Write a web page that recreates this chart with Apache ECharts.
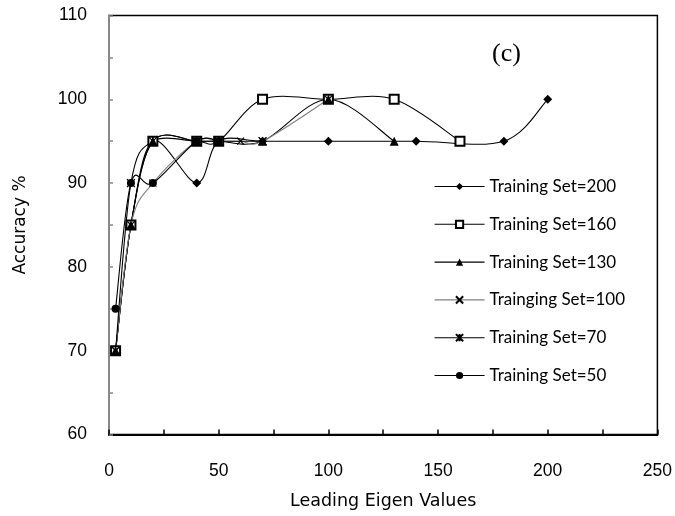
<!DOCTYPE html>
<html><head><meta charset="utf-8">
<script src="https://cdn.jsdelivr.net/npm/echarts@6/dist/echarts.min.js"></script>
<style>html,body{margin:0;padding:0;background:#fff}#c{width:675px;height:516px}</style>
</head><body><div id="c"></div>
<script>
const seriesNames = ['Training Set=200','Training Set=160','Training Set=130','Trainging Set=100','Training Set=70','Training Set=50'];
const x200 = [3,10,20,40,50,70,100,140,180,200];
const y200 = [70,85,95,90,95,95,95,95,95,100];
const x160 = [3,10,20,40,50,70,100,130,160];
const y160 = [70,85,95,95,95,100,100,100,95];
const x130 = [3,10,20,40,50,70,100,130];
const y130 = [70,85,95,95,95,95,100,95];
const x100 = [3,10,20,40,50,60,70,100];
const y100 = [70,85,90,95,95,95,95,100];
const x70 = [3,10,20,40,50,70];
const y70 = [70,90,95,95,95,95];
const x50 = [3,10,20,40,50];
const y50 = [75,90,90,95,95];
const xTicks = [0,50,100,150,200,250];
const yTicks = [60,70,80,90,100,110];

const xsAll = [x200,x160,x130,x100,x70,x50];
const ysAll = [y200,y160,y130,y100,y70,y50];
const symbols = ['diamond','emptyRect','triangle','path://M0,0L10,10M10,0L0,10','path://M0,0L10,10M10,0L0,10M5,0L5,10','circle'];
const sizes = [9,9,9,7,8,8];
const lineColors = ['#000','#000','#000','#808080','#000','#000'];

// Excel-like smooth curve drawn through the chart's own coordinate system
function makeCurveRender(idx){
  return function(params, api){
    if (params.dataIndex !== 0) return null;
    const xs = xsAll[idx], ys = ysAll[idx];
    const P = xs.map((x,j)=>api.coord([x, ys[j]]));
    const n = P.length;
    let d = 'M' + P[0][0] + ' ' + P[0][1];
    for (let i=0;i<n-1;i++){
      const p0 = P[Math.max(i-1,0)], p1 = P[i], p2 = P[i+1], p3 = P[Math.min(i+2,n-1)];
      const c1 = [p1[0] + (p2[0]-p0[0])/6, p1[1] + (p2[1]-p0[1])/6];
      const c2 = [p2[0] - (p3[0]-p1[0])/6, p2[1] - (p3[1]-p1[1])/6];
      d += ' C' + c1[0] + ' ' + c1[1] + ' ' + c2[0] + ' ' + c2[1] + ' ' + p2[0] + ' ' + p2[1];
    }
    return {type:'path', shape:{pathData:d}, style:{fill:'none', stroke:lineColors[idx], lineWidth:1.1}};
  };
}

const curveSeries = seriesNames.map((n,i)=>({
  name: n + ' curve', type:'custom', renderItem: makeCurveRender(i),
  data: xsAll[i].map((x,j)=>[x, ysAll[i][j]]), z: 2, silent:true, clip:true
}));
const markerSeries = seriesNames.map((n,i)=>({
  name:n, type:'line',
  data: xsAll[i].map((x,j)=>[x, ysAll[i][j]]),
  symbol: symbols[i], symbolSize: sizes[i], showAllSymbol:true,
  lineStyle:{color:lineColors[i], width:1.1, opacity:0},
  itemStyle:{color:'#000', borderColor:'#000', borderWidth: (i===1||i===3||i===4)?1.2:0},
  emphasis:{disabled:true},
  z: 3+i
}));

const chart = echarts.init(document.getElementById('c'), null, {renderer:'canvas'});
chart.setOption({
  animation:false,
  backgroundColor:'#fff',
  grid:{left:109, right:17.5, top:15.5, bottom:81.5, show:true, borderColor:'#000', borderWidth:1.5},
  legend:{
    orient:'vertical', left:434, top:177.5, padding:0, itemWidth:50, itemHeight:9, itemGap:19.8,
    data: seriesNames.map((n,i)=>({name:n, lineStyle:{opacity:1, color:lineColors[i], width:1.1}})),
    textStyle:{fontFamily:'Lato', fontSize:17, color:'#000', lineHeight:18},
  },
  xAxis:{
    type:'value', min:0, max:250, interval:25,
    name:'Leading Eigen Values', nameLocation:'middle', nameGap:58,
    nameTextStyle:{fontFamily:'DejaVu Sans', fontSize:17.5, color:'#000'},
    axisLine:{show:true, onZero:false, lineStyle:{color:'#000', width:2}},
    axisTick:{show:true, inside:true, length:5, lineStyle:{color:'#000', width:1.5}},
    axisLabel:{margin:28, fontFamily:'Liberation Sans', fontSize:17.5, color:'#000',
      formatter:v=> xTicks.includes(v) ? String(v) : ''},
    splitLine:{show:false}
  },
  yAxis:{
    type:'value', min:60, max:110, interval:5,
    name:'Accuracy %', nameLocation:'middle', nameGap:80, nameRotate:90,
    nameTextStyle:{fontFamily:'DejaVu Sans', fontSize:17, color:'#000'},
    axisLine:{show:true, lineStyle:{color:'#888', width:2}},
    axisTick:{show:true, inside:true, length:4, lineStyle:{color:'#888', width:1.5}},
    axisLabel:{margin:22, fontFamily:'Liberation Sans', fontSize:17.5, color:'#000',
      formatter:v=> yTicks.includes(v) ? String(v) : ''},
    splitLine:{show:false}
  },
  graphic:[{type:'text', left:492, top:41, style:{text:'(c)', font:'26px "Liberation Serif"', fill:'#000'}}],
  series: markerSeries.concat(curveSeries)
});
</script></body></html>
